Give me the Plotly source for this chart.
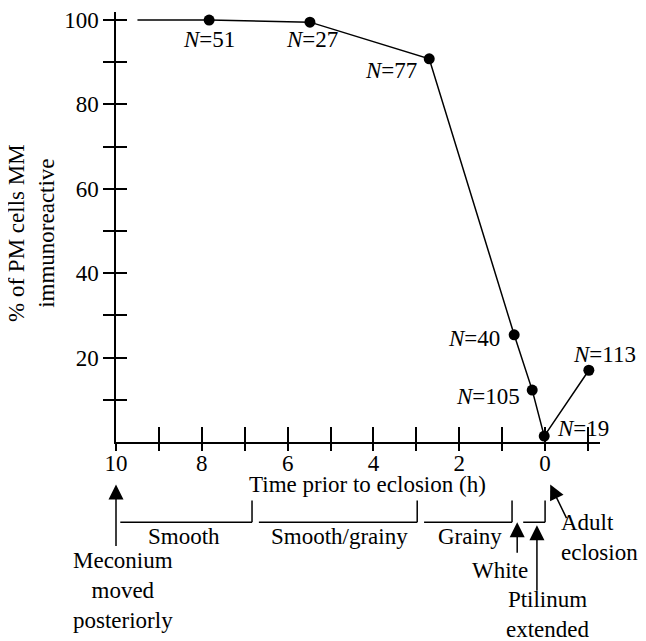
import plotly.graph_objects as go

# ---------------- data ----------------
time_h = [7.83, 5.48, 2.70, 0.72, 0.30, 0.02, -1.02]
pct_mm = [100, 99.5, 90.8, 25.4, 12.3, 1.4, 17.0]
n_cells = [51, 27, 77, 40, 105, 19, 113]
line_start_h = 9.5
line_start_pct = 100

x_tick_vals = [10, 9, 8, 7, 6, 5, 4, 3, 2, 1, 0, -1]
x_tick_text = ["10", "", "8", "", "6", "", "4", "", "2", "", "0", ""]
y_tick_vals = [10, 20, 30, 40, 50, 60, 70, 80, 90, 100]
y_tick_text = ["", "20", "", "40", "", "60", "", "80", "", "100"]

stage_names = ["Smooth", "Smooth/grainy", "Grainy", ""]
stage_start_h = [9.9, 6.67, 2.82, 0.51]
stage_end_h = [6.83, 2.98, 0.77, 0.0]

event_names = ["Meconium<br>moved<br>posteriorly", "White", "Ptilinum<br>extended", "Adult<br>eclosion"]
event_h = [10.0, 0.65, 0.19, -0.12]

# ---------------- layout helpers ----------------
OFF = 8                      # page body margin of the browser
W, H = 638 - OFF, 641 - OFF  # visible viewport is about 638 px wide
L, T = 116 - OFF, 0
PLOT_RIGHT, PLOT_BOTTOM = 600 - OFF, 442 - OFF
R, B = W - PLOT_RIGHT, H - PLOT_BOTTOM
PW = PLOT_RIGHT - L
PH = PLOT_BOTTOM - T
X_RANGE = [10, -1.28]
Y_RANGE = [0, 101.9]
FONT = "Liberation Serif"
FS = 23


def pxx(xp):  # window pixel x -> paper
    return (xp - OFF - L) / PW


def pyy(yp):  # window pixel y -> paper
    return (PLOT_BOTTOM - (yp - OFF)) / PH


label_shift = {  # pixel offsets (dx right, dy down) of N labels from points
    51: (0, 19), 27: (2, 17), 77: (-38, 12), 40: (-40, 4),
    105: (-44, 6), 19: (39, -8), 113: (16, -16),
}

fig = go.Figure()
fig.add_trace(go.Scatter(x=[line_start_h] + time_h, y=[line_start_pct] + pct_mm,
                         mode="lines", line=dict(color="black", width=1.5),
                         hoverinfo="skip"))
fig.add_trace(go.Scatter(x=time_h, y=pct_mm, mode="markers",
                         marker=dict(color="black", size=11)))
fig.add_trace(go.Scatter(x=[], y=[], xaxis="x2", yaxis="y2"))

annotations = []
for xh, yv, n in zip(time_h, pct_mm, n_cells):
    dx, dy = label_shift[n]
    annotations.append(dict(x=xh, y=yv, xref="x", yref="y", text=f"<i>N</i>={n}",
                            showarrow=False, xshift=dx, yshift=-dy,
                            xanchor="center", yanchor="middle",
                            font=dict(family=FONT, size=FS, color="black")))

# y title
annotations.append(dict(x=pxx(32), y=pyy(231), xref="paper", yref="paper",
                        text="% of PM cells MM<br>immunoreactive", textangle=-90,
                        showarrow=False, xanchor="center", yanchor="middle",
                        font=dict(family=FONT, size=FS, color="black")))
# x title
annotations.append(dict(x=pxx(367), y=pyy(485), xref="paper", yref="paper",
                        text="Time prior to eclosion (h)", showarrow=False,
                        xanchor="center", yanchor="middle",
                        font=dict(family=FONT, size=FS, color="black")))

shapes = []
bracket_y = pyy(523)
bracket_top = pyy(501)
for s, e in zip(stage_start_h, stage_end_h):
    shapes.append(dict(type="line", xref="x", yref="paper", x0=s, x1=e,
                       y0=bracket_y, y1=bracket_y, line=dict(color="black", width=1.5)))
    shapes.append(dict(type="line", xref="x", yref="paper", x0=e, x1=e,
                       y0=bracket_y, y1=bracket_top, line=dict(color="black", width=1.5)))

stage_label_px = [184, 339, 470, None]
for name, lp in zip(stage_names, stage_label_px):
    if name:
        annotations.append(dict(x=pxx(lp), y=pyy(537), xref="paper", yref="paper",
                                text=name, showarrow=False, xanchor="center",
                                yanchor="middle",
                                font=dict(family=FONT, size=FS, color="black")))

# event arrows (head y px, tail dx, tail dy)
arrow_geom = [(485, 0, 63), (523, 0, 32), (526, 0, 67), (485, 17, 35)]
for xh, (hy, ax, ay) in zip(event_h, arrow_geom):
    annotations.append(dict(x=xh, y=pyy(hy), xref="x", yref="paper", text="",
                            showarrow=True, ax=ax, ay=ay, arrowhead=2,
                            arrowsize=2, arrowwidth=1.5, arrowcolor="black"))

event_label_pos = [(122.5, 592, "center", "center"), (500, 572, "center", "center"),
                   (548, 616, "center", "center"), (559, 538, "left", "left")]
for name, (lx, ly, xa, al) in zip(event_names, event_label_pos):
    annotations.append(dict(x=pxx(lx), y=pyy(ly), xref="paper", yref="paper",
                            text=name, showarrow=False, xanchor=xa, yanchor="middle",
                            align=al, font=dict(family=FONT, size=FS, color="black")))

axis_common = dict(showgrid=False, zeroline=False, tickcolor="black", tickwidth=1.5,
                   tickfont=dict(family=FONT, size=FS, color="black"))

fig.update_layout(
    width=W, height=H, autosize=False,
    margin=dict(l=L, r=R, t=T, b=B, pad=0),
    paper_bgcolor="white", plot_bgcolor="white",
    showlegend=False,
    font=dict(family=FONT, size=FS, color="black"),
    xaxis=dict(range=X_RANGE, showline=True, linecolor="black", linewidth=1.5,
               ticks="inside", ticklen=15, tickvals=x_tick_vals, ticktext=x_tick_text,
               ticklabeloverflow="allow", **axis_common),
    xaxis2=dict(range=X_RANGE, overlaying="x", anchor="y2", showline=False,
                ticks="outside", ticklen=8, tickvals=x_tick_vals, showticklabels=False,
                **axis_common),
    yaxis=dict(range=Y_RANGE, showline=True, linecolor="black", linewidth=1.5,
               ticks="outside", ticklen=11, tickvals=y_tick_vals, ticktext=y_tick_text,
               ticklabeloverflow="allow", **axis_common),
    yaxis2=dict(range=Y_RANGE, overlaying="y", anchor="x2", side="left", showline=False,
                ticks="inside", ticklen=11, tickvals=y_tick_vals, showticklabels=False,
                **axis_common),
    annotations=annotations,
    shapes=shapes,
)

fig.write_html("out.html")
